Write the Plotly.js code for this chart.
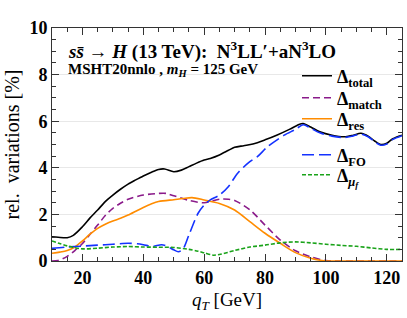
<!DOCTYPE html>
<html><head><meta charset="utf-8">
<script src="https://cdn.plot.ly/plotly-3.0.1.min.js"></script>
<style>body{margin:0;background:#fff}#c{width:407px;height:318px}</style>
</head><body><div id="c"></div>
<script>
const qTotal = [10,12,15,17,20,22.5,25,27.5,30,32.5,35,37.5,40,42.5,45,47,50,52.5,55,57.5,60,62,65,68,70,73,76,80,84,88,91,92.5,95,98,102,106,109,111.5,114,116,118,120,122,125];
const vTotal = [1.04,1.02,1.0,1.1,1.47,1.85,2.19,2.55,2.83,3.08,3.3,3.48,3.65,3.8,3.93,3.95,3.83,3.9,4.05,4.2,4.33,4.4,4.55,4.75,4.88,4.95,5.02,5.2,5.41,5.65,5.85,5.9,5.75,5.55,5.4,5.33,5.4,5.48,5.35,5.15,5.0,5.05,5.25,5.4];

const qMatch = [10,12,15,17.5,20,22.5,25,27.5,30,32.5,35,40,45,47.5,50,55,60,65,68,70,75,80,85,90,95,100,105,110,115,120,125];
const vMatch = [0.0,0.02,0.2,0.45,0.75,1.15,1.54,1.95,2.26,2.48,2.65,2.83,2.9,2.9,2.8,2.6,2.5,2.65,2.65,2.6,2.2,1.54,0.9,0.44,0.18,0.02,0.0,0.0,0.0,0.0,0.0];

const qRes = [10,12.5,15,17.5,20,22.5,25,27.5,30,32.5,35,40,45,50,53,56,60,65,70,75,80,85,90,95,100,105,110,115,120,125];
const vRes = [0.33,0.38,0.45,0.6,0.86,1.15,1.4,1.58,1.72,1.83,1.97,2.3,2.55,2.63,2.68,2.72,2.62,2.47,2.19,1.69,1.19,0.76,0.36,0.12,0.0,0.0,0.0,0.0,0.0,0.0];

const qFO = [10,15,20,25,30,35,38,40,43,46,48,50,51.5,53,55,58,60,62,65,68,71,75,77.5,80.8,86.3,90,92.5,95,98,102,106,109,111.5,114,116,118,120,122,125];
const vFO = [0.54,0.6,0.64,0.68,0.72,0.76,0.74,0.7,0.62,0.7,0.62,0.48,0.4,0.5,1.12,2.05,2.4,2.62,2.83,3.2,3.77,4.26,4.48,4.9,5.4,5.65,5.85,5.7,5.5,5.36,5.3,5.37,5.45,5.32,5.12,4.97,5.02,5.22,5.38];

const qMuf = [10,12.5,15,17.5,20,25,30,35,40,45,50,55,58,60,63,65,70,75,80,85,90,95,100,105,110,115,120,125];
const vMuf = [0.86,0.75,0.65,0.57,0.52,0.55,0.6,0.62,0.6,0.59,0.58,0.5,0.42,0.35,0.25,0.28,0.45,0.6,0.68,0.78,0.82,0.78,0.72,0.67,0.63,0.56,0.5,0.5];

const xTicks = [20,40,60,80,100,120];
const yTicks = [0,2,4,6,8,10];

const SERIF = 'Liberation Serif, DejaVu Serif, serif';
const names = ['<b>Δ<sub>total</sub></b>','<b>Δ<sub>match</sub></b>','<b>Δ<sub>res</sub></b>','<b>Δ<sub>FO</sub></b>','<b>Δ<sub><i>μ<sub>f</sub></i></sub></b>'];
const series = [[qTotal,vTotal,'#000000','solid'],[qMatch,vMatch,'#8a1a8a','7px,4px'],[qRes,vRes,'#ff8c00','solid'],[qFO,vFO,'#1432ff','12px,5px'],[qMuf,vMuf,'#1aa31a','4px,2px']];
const legY = [76,98,119,155,175];
const traces = series.map((s,i)=>({x:s[0],y:s[1],type:'scatter',mode:'lines',line:{color:s[2],width:1.6,dash:s[3],shape:'spline',smoothing:0.8},name:names[i],legend:i===0?'legend':'legend'+(i+1)}));

const layout = {
  width:407,height:318,
  margin:{l:52,r:5,t:28,b:57},
  paper_bgcolor:'#fff',plot_bgcolor:'#fff',
  font:{family:SERIF,color:'#000',size:16},
  xaxis:{range:[10,125],tickvals:xTicks,ticktext:xTicks.map(v=>'<b>'+v+'</b>'),ticks:'inside',ticklen:7,tickwidth:1,tickcolor:'#333',
    showline:true,linecolor:'#333',linewidth:1,mirror:'allticks',showgrid:false,zeroline:false,
    tickfont:{family:SERIF,size:18},
    minor:{dtick:5,tick0:0,ticks:'inside',ticklen:4,tickcolor:'#333',showgrid:false},
    title:{text:'<i>q<sub>T</sub></i> [GeV]',font:{family:SERIF,size:19},standoff:6}},
  yaxis:{range:[0,10],tickvals:yTicks,ticktext:yTicks.map(v=>'<b>'+v+'</b>'),ticks:'inside',ticklen:7,tickwidth:1,tickcolor:'#333',
    showline:true,linecolor:'#333',linewidth:1,mirror:'allticks',showgrid:true,gridcolor:'#e8e8e8',zeroline:false,
    tickfont:{family:SERIF,size:18},
    minor:{dtick:0.5,tick0:0,ticks:'inside',ticklen:4,tickcolor:'#333',showgrid:false},
    title:{text:'rel.  variations [%]',font:{family:SERIF,size:20},standoff:4}},
  showlegend:true,
  annotations:[
    {xref:'paper',yref:'paper',x:(66-52)/350,y:(261-50)/233,xanchor:'left',yanchor:'middle',showarrow:false,
     text:'<b><i>s</i><i>s̄</i> → <i>H</i> (13 TeV):  N<sup>3</sup>LL′+aN<sup>3</sup>LO</b>',font:{family:SERIF,size:19}},
    {xref:'paper',yref:'paper',x:(66-52)/350,y:(261-70)/233,xanchor:'left',yanchor:'middle',showarrow:false,
     text:'<b>MSHT20nnlo , <i>m<sub>H</sub></i> = 125 GeV</b>',font:{family:SERIF,size:15}}
  ]
};
legY.forEach((py,i)=>{
  const key = i===0?'legend':'legend'+(i+1);
  layout[key] = {x:(297-52)/350,y:(261-py)/233,xanchor:'left',yanchor:'middle',bgcolor:'rgba(0,0,0,0)',borderwidth:0,
    font:{family:SERIF,size:18},itemwidth:30,tracegroupgap:0};
});
Plotly.newPlot('c',traces,layout,{displayModeBar:false,staticPlot:true});
</script></body></html>
